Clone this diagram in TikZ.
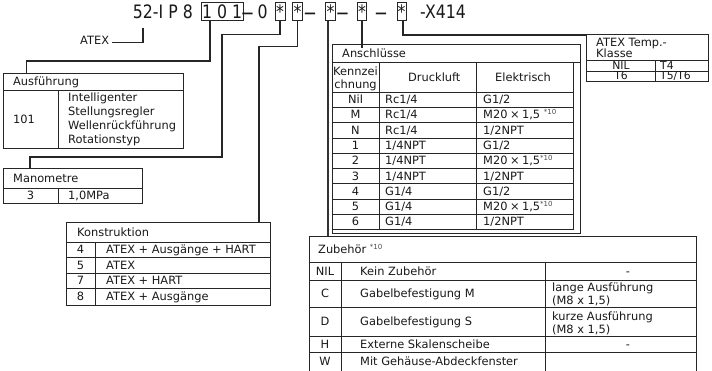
\documentclass[tikz,border=0pt]{standalone}
\usepackage{fontspec}
\setmainfont{DejaVu Sans}
\newfontfamily\hdrfont[FakeStretch=0.85]{DejaVu Sans}
\newcommand\mysup[1]{\raisebox{4pt}{\fontsize{7}{7}\selectfont\color{black!70}#1}}
\newcommand\mtimes{\kern2.5pt×\kern2.5pt}
\newcommand\hdash{\scalebox{1}[2.1]{—}}
\tikzset{
  conn/.style={line width=1.2pt, draw=black!85},
  connthick/.style={line width=1.9pt, draw=black!80},
  tl/.style={line width=0.8pt, draw=black!85},
  tx/.style={inner sep=0pt, font=\fontsize{11.4}{14}\selectfont, text=black!90},
  txs/.style={inner sep=0pt, font=\fontsize{10.8}{13}\selectfont, text=black!90},
  hd/.style={inner sep=0pt, font=\hdrfont\fontsize{18.5}{20}\selectfont, text=black!90},
  cbox/.style={draw=black!85, line width=0.8pt, inner sep=0pt, minimum height=18pt,
    text height=13.5pt, text depth=0pt, font=\hdrfont\fontsize{18.5}{20}\selectfont, text=black!90},
  tbox/.style={draw=black!85, line width=0.8pt, inner sep=0pt, anchor=north west},
}
\newcommand\anrow[4]{%
  \node[tx,anchor=base] (an#1a) at (355.5,{103.55+15.3*#1}) {#2};
  \node[tx,anchor=base west] (an#1b) at (385,{103.55+15.3*#1}) {#3};
  \node[tx,anchor=base west] (an#1c) at (483,{103.55+15.3*#1}) {#4};}
\begin{document}
\begin{tikzpicture}[x=1pt,y=-1pt]
\useasboundingbox (0,0) rectangle (712,370);
\fill[white] (0,0) rectangle (712,370);

% ---- header code line
\node[hd, anchor=base east] (h52) at (193,18.3) {52-I P 8};
\node[cbox, minimum width=41.5pt] (b101) at (222.25,11.5) {1 0 1};
\node[tx, anchor=base] (d1) at (247.5,20.3) {\hdash};
\node[hd, anchor=base west] (h0) at (257.5,18.3) {0};
\node[cbox, minimum width=10pt] (bs1) at (280,11.5) {*};
\node[cbox, minimum width=10pt] (bs2) at (297.5,11.5) {*};
\node[tx, anchor=base] (d2) at (310,20.3) {\hdash};
\node[cbox, minimum width=10pt] (bs3) at (330.5,11.5) {*};
\node[tx, anchor=base] (d3) at (342.5,20.3) {\hdash};
\node[cbox, minimum width=9.5pt] (bs4) at (362,11.5) {*};
\node[tx, anchor=base] (d4) at (381,20.3) {\hdash};
\node[cbox, minimum width=9pt] (bs5) at (401.5,11.5) {*};
\node[hd, anchor=base west] (hx) at (420,18.3) {-X414};

% ---- ATEX label
\node[tx, anchor=base west] (atexl) at (80,44.5) {ATEX};
\coordinate (atexend) at (143,28);
\draw[conn] ([xshift=3pt,yshift=-2pt]atexl.east) -| (atexend);

% ---- Ausfuehrung
\node[tbox, minimum width=180pt, minimum height=75pt] (ausf) at (3,73) {};
\draw[tl] (3,90) -- (183,90) (58,90) -- (58,148);
\node[tx, anchor=base west] (a0) at (13,85.5) {Ausführung};
\node[tx, anchor=base west] (a1) at (13,123) {101};
\node[tx, anchor=base west] (a2) at (68,101.5) {Intelligenter};
\node[tx, anchor=base west] (a3) at (68,115.5) {Stellungsregler};
\node[tx, anchor=base west] (a4) at (68,129.5) {Wellenrückführung};
\node[tx, anchor=base west] (a5) at (68,143.5) {Rotationstyp};

% ---- Manometre
\node[tbox, minimum width=139pt, minimum height=35pt] (mano) at (3,168) {};
\draw[tl] (3,188) -- (142,188) (58,188) -- (58,203);
\node[tx, anchor=base west] (m0) at (13,182) {Manometre};
\node[tx, anchor=base] (m1) at (30.5,199.5) {3};
\node[tx, anchor=base west] (m2) at (68,199.5) {1,0MPa};

% ---- Konstruktion
\node[tbox, minimum width=204pt, minimum height=83pt] (kons) at (66,222) {};
\draw[tl] (66,242) -- (270,242) (66,257.5) -- (270,257.5) (66,273) -- (270,273)
  (66,288.5) -- (270,288.5) (95,242) -- (95,305);
\node[tx, anchor=base west] (k0) at (77,236) {Konstruktion};
\node[tx, anchor=base] (k1a) at (80.5,253.7) {4};
\node[tx, anchor=base west] (k1b) at (106,253.7) {ATEX + Ausgänge + HART};
\node[tx, anchor=base] (k2a) at (80.5,269.2) {5};
\node[tx, anchor=base west] (k2b) at (106,269.2) {ATEX};
\node[tx, anchor=base] (k3a) at (80.5,284.7) {7};
\node[tx, anchor=base west] (k3b) at (106,284.7) {ATEX + HART};
\node[tx, anchor=base] (k4a) at (80.5,300.7) {8};
\node[tx, anchor=base west] (k4b) at (106,300.7) {ATEX + Ausgänge};

% ---- Anschluesse
\node[tbox, minimum width=248pt, minimum height=189pt] (ansch) at (332,44) {};
\draw[tl] (332,62) -- (580,62);
\draw[tl] (573,62) -- (573,229.7) -- (332,229.7);
\draw[tl] (379,62) -- (379,229.7) (476,62) -- (476,229.7);
\foreach \k in {0,...,8} { \draw[tl] (332,{92+15.3*\k}) -- (573,{92+15.3*\k}); }
\node[tx, anchor=base west] (an0) at (342,57) {Anschlüsse};
\node[tx, anchor=base] (anh1) at (355.5,75) {Kennzei};
\node[tx, anchor=base] (anh2) at (355.5,88.5) {chnung};
\node[tx, anchor=base west] (anh3) at (408,81.5) {Druckluft};
\node[tx, anchor=base west] (anh4) at (495,81.5) {Elektrisch};
\anrow{0}{Nil}{Rc1/4}{G1/2}
\anrow{1}{M}{Rc1/4}{M20\mtimes1,5 \mysup{*10}}
\anrow{2}{N}{Rc1/4}{1/2NPT}
\anrow{3}{1}{1/4NPT}{G1/2}
\anrow{4}{2}{1/4NPT}{M20\mtimes1,5\mysup{*10}}
\anrow{5}{3}{1/4NPT}{1/2NPT}
\anrow{6}{4}{G1/4}{G1/2}
\anrow{7}{5}{G1/4}{M20\mtimes1,5\mysup{*10}}
\anrow{8}{6}{G1/4}{1/2NPT}

% ---- Zubehoer
\node[tbox, minimum width=387pt, minimum height=140pt] (zub) at (309,236) {};
\draw[tl] (309,262.5) -- (696,262.5) (309,280) -- (696,280) (309,307.5) -- (696,307.5)
  (309,336) -- (696,336) (309,352.5) -- (696,352.5)
  (341,262.5) -- (341,376) (545,262.5) -- (545,376);
\node[tx, anchor=base west] (z0) at (318,253.5) {Zubehör \mysup{*10}};
\node[tx, anchor=base] (z1a) at (325,275) {NIL};
\node[tx, anchor=base west] (z1b) at (360,275) {Kein Zubehör};
\node[tx, anchor=base] (z1c) at (628,275) {-};
\node[tx, anchor=base] (z2a) at (325,297.5) {C};
\node[tx, anchor=base west] (z2b) at (360,297.5) {Gabelbefestigung M};
\node[tx, anchor=base west] (z2c) at (552,291) {lange Ausführung};
\node[tx, anchor=base west] (z2d) at (552,304.5) {(M8 x 1,5)};
\node[tx, anchor=base] (z3a) at (325,325.5) {D};
\node[tx, anchor=base west] (z3b) at (360,325.5) {Gabelbefestigung S};
\node[tx, anchor=base west] (z3c) at (552,320) {kurze Ausführung};
\node[tx, anchor=base west] (z3d) at (552,333.3) {(M8 x 1,5)};
\node[tx, anchor=base] (z4a) at (325,348) {H};
\node[tx, anchor=base west] (z4b) at (360,348) {Externe Skalenscheibe};
\node[tx, anchor=base] (z4c) at (628,348) {-};
\node[tx, anchor=base] (z5a) at (325,365) {W};
\node[tx, anchor=base west] (z5b) at (360,365) {Mit Gehäuse-Abdeckfenster};

% ---- ATEX Temp.-Klasse
\node[tbox, minimum width=122pt, minimum height=47pt] (atext) at (586,34) {};
\draw[tl] (586,60.5) -- (708,60.5) (586,71) -- (708,71) (655,60.5) -- (655,81);
\node[tx, anchor=base west] (t0) at (596,46.5) {ATEX Temp.-};
\node[tx, anchor=base west] (t1) at (596,57.8) {Klasse};
\node[txs, anchor=base] (t2a) at (621,69.6) {NIL};
\node[txs, anchor=base west] (t2b) at (660,69.6) {T4};
\node[txs, anchor=base] (t3a) at (621,79.8) {T6};
\node[txs, anchor=base west] (t3b) at (660,79.8) {T5/T6};

% ---- connectors
\draw[conn] ([xshift=-12.25pt]b101.south) -- (210,61) -- (26.5,61) -- ([xshift=23.5pt]ausf.north west);
\draw[conn] (bs1.south) -- (280,34.5) -- (222,34.5) -- (222,157) -- (30,157) -- ([xshift=27pt]mano.north west);
\draw[conn] (bs2.south) -- (297.5,46.5) -- (259,46.5) -- ([xshift=193pt]kons.north west);
\draw[connthick] ([xshift=-2.5pt]bs3.south) -- ([xshift=19pt]zub.north west);
\draw[conn] (bs4.south) -- ([xshift=30pt,yshift=-4pt]ansch.north west);
\draw[conn] ([xshift=1.5pt]bs5.south) -- (403,35) -- ([yshift=-1pt]atext.north west);
\end{tikzpicture}
\end{document}
